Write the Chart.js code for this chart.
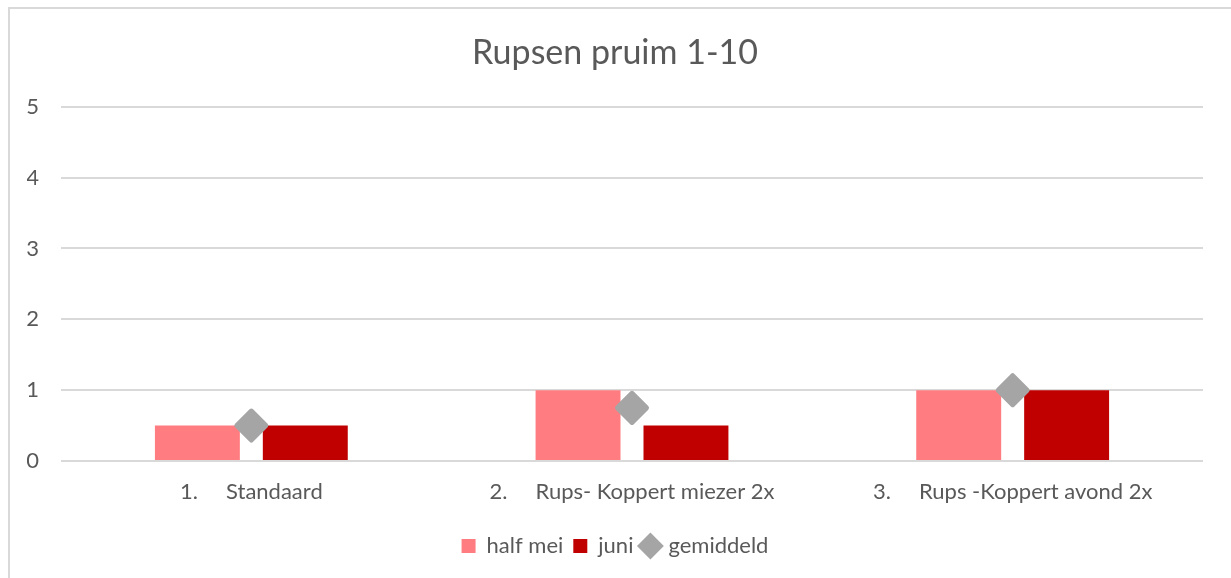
<!DOCTYPE html>
<html>
<head>
<meta charset="utf-8">
<script src="https://cdn.jsdelivr.net/npm/chart.js@4.4.1/dist/chart.umd.min.js"></script>
<style>
  html, body { margin: 0; padding: 0; background: #fff; overflow: hidden; }
  #wrap { position: relative; width: 1231px; height: 578px; }
  #frame { position: absolute; left: 8px; top: 7px; width: 1300px; height: 700px;
           border: 2px solid #D9D9D9; box-sizing: border-box; }
  #chart { position: absolute; left: 0; top: 0; }
</style>
</head>
<body>
<div id="wrap">
  <div id="frame"></div>
  <canvas id="chart" width="1231" height="578"></canvas>
</div>
<script>
// ─── Data ──────────────────────────────────────────────
const categories = ['1.     Standaard', '2.     Rups- Koppert miezer 2x', '3.     Rups -Koppert avond 2x'];
const halfMei    = [0.5, 1, 1];
const juni       = [0.5, 0.5, 1];
const gemiddeld  = [0.5, 0.75, 1];
const yTicks     = [0, 1, 2, 3, 4, 5];

// ─── Style ─────────────────────────────────────────────
const C = {
    salmon: '#FF7C80',
    red:    '#C00000',
    grey:   '#A5A5A5',
    grid:   '#D9D9D9',
    text:   '#595959',
    font:   "Lato, 'Noto Sans', sans-serif"
};

// rounded corners on the diamond markers
const roundJoin = {
    id: 'roundJoin',
    beforeDatasetDraw(chart, args) {
        if (args.meta.type === 'line') chart.ctx.lineJoin = 'round';
    }
};

new Chart(document.getElementById('chart').getContext('2d'), {
    data: {
        labels: categories,
        datasets: [
            {
                type: 'bar',
                label: 'half mei',
                data: halfMei,
                backgroundColor: C.salmon,
                borderWidth: 0,
                pointStyle: 'rect',
                categoryPercentage: 0.567,
                barPercentage: 0.787,
                order: 1
            },
            {
                type: 'bar',
                label: 'juni',
                data: juni,
                backgroundColor: C.red,
                borderWidth: 0,
                pointStyle: 'rect',
                categoryPercentage: 0.567,
                barPercentage: 0.787,
                order: 1
            },
            {
                type: 'line',
                label: 'gemiddeld',
                data: gemiddeld,
                showLine: false,
                backgroundColor: C.grey,
                borderColor: C.grey,
                borderWidth: 3,
                borderJoinStyle: 'round',
                pointStyle: 'rectRot',
                pointRadius: 14.5,
                pointHoverRadius: 14.5,
                pointBorderWidth: 5,
                pointBackgroundColor: C.grey,
                pointBorderColor: C.grey,
                order: 0
            }
        ]
    },
    options: {
        responsive: false,
        animation: false,
        devicePixelRatio: 1,
        layout: { padding: { left: 27, right: 28, top: 0, bottom: 11 } },
        plugins: {
            title: {
                display: true,
                text: 'Rupsen pruim 1-10',
                color: C.text,
                font: { size: 34, family: C.font, weight: 'normal' },
                padding: { top: 33, bottom: 33 }
            },
            legend: {
                position: 'bottom',
                labels: {
                    usePointStyle: true,
                    boxWidth: 14,
                    boxHeight: 14,
                    padding: 10,
                    color: C.text,
                    font: { size: 22, family: C.font },
                    sort: (a, b) => a.datasetIndex - b.datasetIndex
                }
            },
            tooltip: { enabled: false }
        },
        scales: {
            x: {
                grid: { display: false },
                border: { display: false },
                ticks: { color: C.text, font: { size: 22, family: C.font }, padding: 10, maxRotation: 0, autoSkip: false },
                afterFit: s => { s.height = 64; }
            },
            y: {
                min: yTicks[0],
                max: yTicks[yTicks.length - 1],
                grid: { color: C.grid, lineWidth: 2, drawTicks: false },
                border: { display: false },
                ticks: { stepSize: 1, color: C.text, font: { size: 22, family: C.font }, padding: 22 },
                afterFit: s => { s.width = 34; }
            }
        }
    },
    plugins: [roundJoin]
});
</script>
</body>
</html>
